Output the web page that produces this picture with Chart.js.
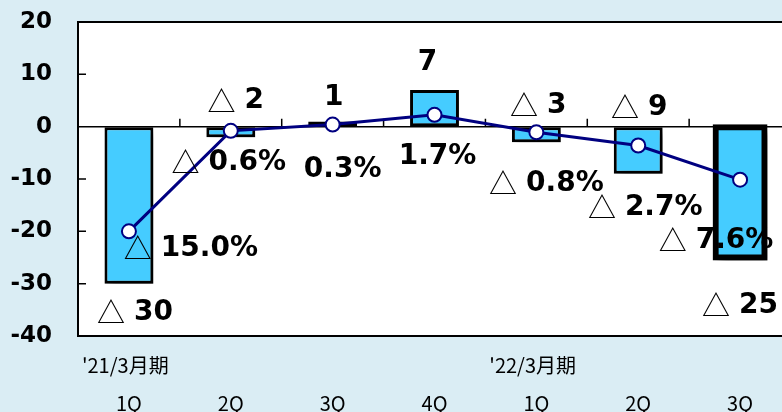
<!DOCTYPE html>
<html lang="ja">
<head>
<meta charset="UTF-8">
<title>Quarterly chart</title>
<script src="https://cdn.jsdelivr.net/npm/chart.js"></script>
<style>
  html, body { margin: 0; padding: 0; background: #daedf4; overflow: hidden; }
  #wrap { width: 800px; height: 412px; }
</style>
</head>
<body>
<div id="wrap"><canvas id="chart" width="800" height="412"></canvas></div>
<script>
// data
const quarters = ["1Q", "2Q", "3Q", "4Q", "1Q", "2Q", "3Q"]
const periods = ["'21/3月期", "", "", "", "'22/3月期", "", ""]
const amounts = [-30, -2, 1, 7, -3, -9, -25]
const ratios = [-15.0, -0.6, 0.3, 1.7, -0.8, -2.7, -7.6]
const amountLabels = ["△ 30", "△ 2", "1", "7", "△ 3", "△ 9", "△ 25"]
const ratioLabels = ["△ 15.0%", "△ 0.6%", "0.3%", "1.7%", "△ 0.8%", "△ 2.7%", "△ 7.6%"]

// label placement relative to the mark (pixels)
const amountOffsets = [[6, 29], [5, -36], [1, -24], [-7, -27], [2, -37], [1, -66], [0, 48]]
const ratioOffsets = [[62, 17], [-2, 32], [10, 45], [3, 42], [10, 51], [7, 62], [-24, 61]]

const BAR = "#45ccff"
const NAVY = "#000080"

// draws "△" thin and the number bold, centered at x
function drawLabel(ctx, text, x, y) {
  let tri = ""
  let num = text
  if (text.startsWith("△")) {
    tri = "△"
    num = text.slice(1).trim()
  }
  const triFont = "28px 'Noto Sans CJK JP'"
  const numFont = "bold 28px 'DejaVu Sans'"
  ctx.font = triFont
  const tw = tri ? ctx.measureText(tri).width : 0
  const gap = tri ? 9 : 0
  ctx.font = numFont
  const nw = ctx.measureText(num).width
  let left = x - (tw + gap + nw) / 2
  ctx.textBaseline = "middle"
  ctx.textAlign = "left"
  ctx.fillStyle = "#000"
  if (tri) {
    ctx.font = triFont
    ctx.fillText(tri, left, y)
  }
  ctx.font = numFont
  ctx.fillText(num, left + tw + gap, y)
}

const decor = {
  id: "decor",
  beforeDatasetDraw(chart, args) {
    if (args.index === 0) {
      const ctx = chart.ctx
      ctx.save()
      ctx.shadowColor = "rgba(0,0,0,0.4)"
      ctx.shadowBlur = 7
      ctx.shadowOffsetX = 5
      ctx.shadowOffsetY = 6
    }
  },
  afterDatasetDraw(chart, args) {
    if (args.index === 0) chart.ctx.restore()
  },
  beforeDatasetsDraw(chart) {
    const { ctx, chartArea: a, scales } = chart
    const y0 = scales.y.getPixelForValue(0)
    ctx.save()
    ctx.fillStyle = "#fff"
    ctx.fillRect(a.left, a.top, a.right - a.left, a.bottom - a.top)
    ctx.strokeStyle = "#000"
    ctx.lineWidth = 1.5
    ctx.beginPath()
    ctx.moveTo(a.left, y0)
    ctx.lineTo(a.right, y0)
    // inner ticks on the zero line, between categories
    for (let i = 1; i < quarters.length; i++) {
      const x = (scales.x.getPixelForValue(i - 1) + scales.x.getPixelForValue(i)) / 2
      ctx.moveTo(x, y0)
      ctx.lineTo(x, y0 - 8)
    }
    // inner ticks on the left axis
    scales.y.ticks.forEach(t => {
      const y = scales.y.getPixelForValue(t.value)
      ctx.moveTo(a.left, y)
      ctx.lineTo(a.left + 8, y)
    })
    ctx.stroke()
    ctx.lineWidth = 2
    ctx.beginPath()
    ctx.moveTo(a.right + 20, a.top)
    ctx.lineTo(a.left, a.top)
    ctx.lineTo(a.left, a.bottom)
    ctx.lineTo(a.right + 20, a.bottom)
    ctx.stroke()
    ctx.restore()
  },
  afterDatasetsDraw(chart) {
    const { ctx, chartArea: a, scales } = chart
    ctx.save()
    amounts.forEach((v, i) => {
      const x = scales.x.getPixelForValue(i)
      const y = scales.y.getPixelForValue(v)
      drawLabel(ctx, amountLabels[i], x + amountOffsets[i][0], y + amountOffsets[i][1])
    })
    ratios.forEach((v, i) => {
      const x = scales.x.getPixelForValue(i)
      const y = scales.y2.getPixelForValue(v)
      drawLabel(ctx, ratioLabels[i], x + ratioOffsets[i][0], y + ratioOffsets[i][1])
    })
    // category labels under the plot
    ctx.fillStyle = "#000"
    ctx.textBaseline = "middle"
    ctx.font = "20px 'Noto Sans CJK JP'"
    periods.forEach((p, i) => {
      if (!p) return
      ctx.textAlign = "left"
      ctx.fillText(p, scales.x.getPixelForValue(i) - 47, a.bottom + 29)
    })
    quarters.forEach((q, i) => {
      ctx.textAlign = "center"
      ctx.fillText(q, scales.x.getPixelForValue(i), a.bottom + 67)
    })
    ctx.restore()
  }
}

new Chart(document.getElementById("chart"), {
  data: {
    labels: quarters,
    datasets: [
      {
        type: "bar",
        data: amounts,
        backgroundColor: BAR,
        borderColor: "#000",
        borderWidth: [3, 3, 3, 3, 3, 3, 6],
        inflateAmount: c => (c.dataIndex === 6 ? 3 : 0),
        borderSkipped: false,
        barPercentage: 0.48,
        categoryPercentage: 1,
        yAxisID: "y",
        order: 2
      },
      {
        type: "line",
        data: ratios,
        borderColor: NAVY,
        borderWidth: 3,
        pointRadius: 7,
        pointBackgroundColor: "#fff",
        pointBorderColor: NAVY,
        pointBorderWidth: 2,
        tension: 0,
        yAxisID: "y2",
        order: 1
      }
    ]
  },
  options: {
    responsive: false,
    animation: false,
    events: [],
    layout: { padding: { top: 22, bottom: 76, right: 8, left: 0 } },
    plugins: { legend: { display: false }, tooltip: { enabled: false } },
    scales: {
      x: { display: false, offset: true },
      y: {
        min: -40,
        max: 20,
        afterFit: s => {
          s.width = 78
          s.paddingTop = 0
          s.paddingBottom = 0
        },
        ticks: {
          stepSize: 10,
          padding: 26,
          color: "#000",
          font: { family: "'DejaVu Sans'", weight: "bold", size: 23 }
        },
        grid: { drawOnChartArea: false, drawTicks: false },
        border: { display: false }
      },
      y2: { display: false, min: -30, max: 15 }
    }
  },
  plugins: [decor]
})
</script>
</body>
</html>
